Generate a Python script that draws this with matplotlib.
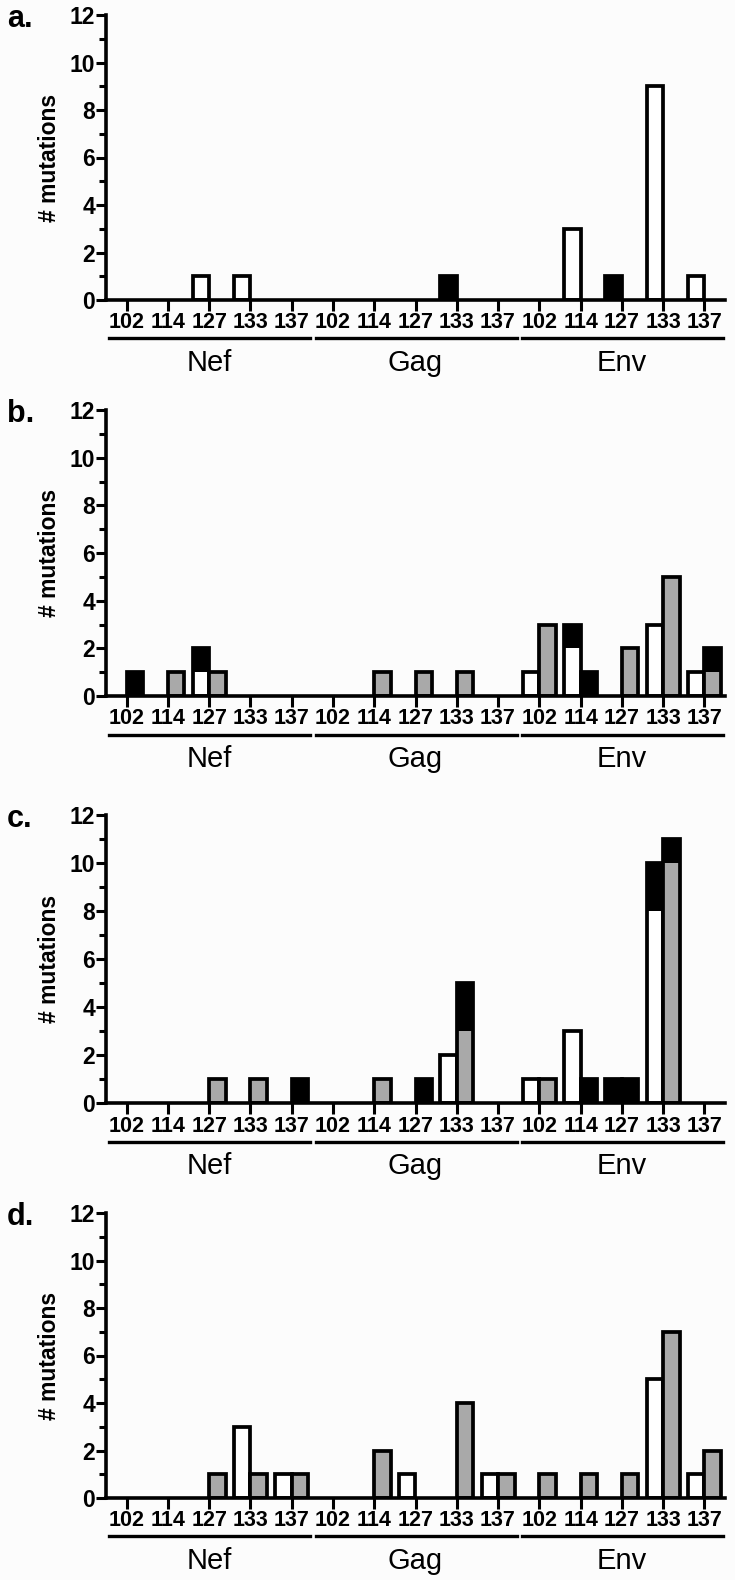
import numpy as np
import matplotlib
matplotlib.use("Agg")
import matplotlib.pyplot as plt
from matplotlib import font_manager

# pick a condensed sans if present
names = {f.name for f in font_manager.fontManager.ttflist}
fam = 'Liberation Sans Narrow' if 'Liberation Sans Narrow' in names else 'Liberation Sans'
plt.rcParams['font.family'] = [fam, 'DejaVu Sans']

# Data
animals = ['102', '114', '127', '133', '137']
genes = ['Nef', 'Gag', 'Env']
tick_labels = animals * 3
panel_letters = ['a.', 'b.', 'c.', 'd.']

# left bar: white base + black top ; right bar: grey base + black top
white_a = [0, 0, 1, 1, 0, 0, 0, 0, 0, 0, 0, 3, 0, 9, 1]
blackL_a = [0, 0, 0, 0, 0, 0, 0, 0, 1, 0, 0, 0, 1, 0, 0]
grey_a = [0] * 15
blackR_a = [0] * 15

white_b = [0, 0, 1, 0, 0, 0, 0, 0, 0, 0, 1, 2, 0, 3, 1]
blackL_b = [0, 0, 1, 0, 0, 0, 0, 0, 0, 0, 0, 1, 0, 0, 0]
grey_b = [0, 1, 1, 0, 0, 0, 1, 1, 1, 0, 3, 0, 2, 5, 1]
blackR_b = [1, 0, 0, 0, 0, 0, 0, 0, 0, 0, 0, 1, 0, 0, 1]

white_c = [0, 0, 0, 0, 0, 0, 0, 0, 2, 0, 1, 3, 0, 8, 0]
blackL_c = [0, 0, 0, 0, 0, 0, 0, 0, 0, 0, 0, 0, 1, 2, 0]
grey_c = [0, 0, 1, 1, 0, 0, 1, 0, 3, 0, 1, 0, 0, 10, 0]
blackR_c = [0, 0, 0, 0, 1, 0, 0, 1, 2, 0, 0, 1, 1, 1, 0]

white_d = [0, 0, 0, 3, 1, 0, 0, 1, 0, 1, 0, 0, 0, 5, 1]
blackL_d = [0] * 15
grey_d = [0, 0, 1, 1, 1, 0, 2, 0, 4, 1, 1, 1, 1, 7, 2]
blackR_d = [0] * 15

panels = [
    (white_a, blackL_a, grey_a, blackR_a),
    (white_b, blackL_b, grey_b, blackR_b),
    (white_c, blackL_c, grey_c, blackR_c),
    (white_d, blackL_d, grey_d, blackR_d),
]

W, H = 735, 1580
fig = plt.figure(figsize=(W / 100, H / 100), dpi=100)
fig.patch.set_facecolor('#fcfcfc')

# pixel rows of y=12 and y=0 for each panel
rows = [(15, 300), (410, 696), (815, 1103), (1213, 1498)]
x_left, x_right = 106, 725

GREY = '#a9a9a9'
bw = 0.4
lw = 2.7

for p, (vals, (ytop, ybot)) in enumerate(zip(panels, rows)):
    white, blackL, grey, blackR = [np.array(v, dtype=float) for v in vals]
    ax = fig.add_axes([x_left / W, 1 - ybot / H, (x_right - x_left) / W, (ybot - ytop) / H])
    ax.set_facecolor('none')
    x = np.arange(15)

    # left bars
    xl = x - bw / 2
    ax.bar(xl, white, bw, color='white', linewidth=0)
    ax.bar(xl, blackL, bw, bottom=white, color='black', linewidth=0)
    totL = white + blackL
    m = totL > 0
    ax.bar(xl[m], totL[m], bw, fill=False, edgecolor='black', linewidth=lw)

    # right bars
    xr = x + bw / 2
    ax.bar(xr, grey, bw, color=GREY, linewidth=0)
    ax.bar(xr, blackR, bw, bottom=grey, color='black', linewidth=0)
    totR = grey + blackR
    m = totR > 0
    ax.bar(xr[m], totR[m], bw, fill=False, edgecolor='black', linewidth=lw)

    ax.set_xlim(-0.5, 14.5)
    ax.set_ylim(0, 12)
    for s in ['top', 'right']:
        ax.spines[s].set_visible(False)
    for s in ['left', 'bottom']:
        ax.spines[s].set_linewidth(2.6)
        ax.spines[s].set_zorder(5)

    ax.set_xticks(x)
    ax.set_xticklabels(tick_labels, fontsize=15.5, fontweight='bold')
    ax.tick_params(axis='x', length=8, width=2.2, pad=1)
    ax.set_yticks(np.arange(0, 13, 2))
    ax.set_yticks(np.arange(1, 12, 2), minor=True)
    ax.set_yticklabels([str(v) for v in range(0, 13, 2)], fontsize=16.5, fontweight='bold')
    ax.tick_params(axis='y', which='major', length=7, width=2.2, pad=1)
    ax.tick_params(axis='y', which='minor', length=5, width=2.2)
    ax.set_ylabel('# mutations', fontsize=16.5, fontweight='bold', labelpad=6)

    # gene underlines and labels
    trans = ax.get_xaxis_transform()
    for g, name in enumerate(genes):
        ax.plot([5 * g - 0.42, 5 * g + 4.45], [-0.135, -0.135], color='black', lw=2.4,
                transform=trans, clip_on=False)
        ax.text(5 * g + 2, -0.22, name, transform=trans, ha='center', va='center',
                fontsize=21)

    fig.text(7 / W, 1 - (ytop + 4) / H, panel_letters[p], fontsize=22, fontweight='bold',
             ha='left', va='center')

fig.savefig('out.png', dpi=100, facecolor=fig.get_facecolor())
